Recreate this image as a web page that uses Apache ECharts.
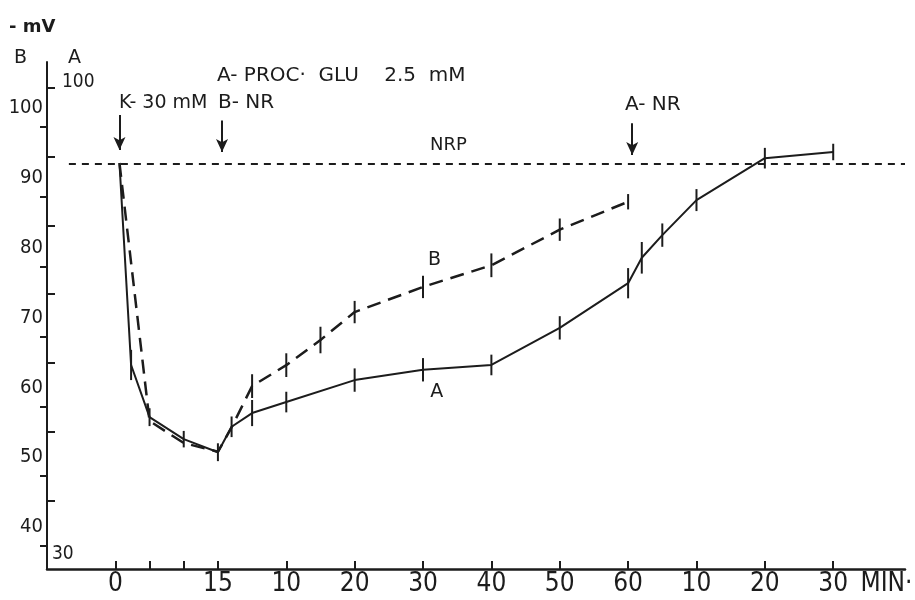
<!DOCTYPE html>
<html>
<head>
<meta charset="utf-8">
<script src="https://cdn.jsdelivr.net/npm/echarts@6/dist/echarts.min.js"></script>
<style>
html,body{margin:0;padding:0;background:#fff;}
#c{width:915px;height:600px;}
</style>
</head>
<body>
<div id="c"></div>
<script>
// ---- data (minutes on a continuous time scale; labels restart after 15 and 60) ----
const timeA = [0.6, 2.3, 5, 10, 15, 17, 20, 25, 35, 45, 55, 65, 75, 77, 80, 85, 95, 105];
const valA  = [89.1, 59.7, 52.1, 48.9, 47.0, 50.7, 52.7, 54.3, 57.5, 59.0, 59.7, 65.1, 71.6, 75.3, 78.6, 83.7, 89.8, 90.7];
const errA  = [0, 2.2, 1.3, 1.2, 1.3, 1.5, 1.9, 1.5, 1.7, 1.7, 1.5, 1.7, 2.2, 2.3, 1.7, 1.6, 1.5, 1.2];

const timeB = [0.6, 5, 10, 15, 17, 20, 25, 30, 35, 45, 55, 65, 75];
const valB  = [94.85, 57.9, 54.75, 53.5, 57.0, 62.9, 65.9, 69.5, 73.5, 77.1, 80.2, 85.3, 89.3];
const errB  = [0, 0, 0, 0, 0, 1.7, 1.7, 1.9, 1.6, 1.6, 1.7, 1.6, 1.1];

const nrpLevelA = 89.05;
const xTickValues  = [0, 5, 10, 15, 25, 35, 45, 55, 65, 75, 85, 95, 105];
const xLabelValues = [0, 15, 25, 35, 45, 55, 65, 75, 85, 95, 105, 112.8];
const xLabelTexts  = ['0', '15', '10', '20', '30', '40', '50', '60', '10', '20', '30', 'MIN·'];
const aTickValues  = [40, 50, 60, 70, 80, 90, 100];
const aLabelValues = [30, 100];
const bTickValues  = [40, 50, 60, 70, 80, 90, 100];

// stimulus arrows: time, top (A-scale mV), tip (A-scale mV)
const arrowTimes = [0.6, 15.6, 75.6];
const arrowTops  = [96.1, 95.3, 94.9];
const arrowTips  = [91.0, 90.7, 90.25];

const INK = '#1c1c1c';
const FONT = '"DejaVu Sans Condensed", "DejaVu Sans", sans-serif';
const FONT2 = '"DejaVu Sans", sans-serif';
const FONTX = '"Liberation Sans Narrow", "DejaVu Sans Condensed", sans-serif';

const chart = echarts.init(document.getElementById('c'), null, {renderer: 'canvas'});

function errRender(params, api) {
  const x = api.value(0), y = api.value(1), e = api.value(2);
  if (!e) return null;
  const p1 = api.coord([x, y + e]);
  const p2 = api.coord([x, y - e]);
  return {type: 'line', shape: {x1: p1[0], y1: p1[1], x2: p2[0], y2: p2[1]},
          style: {stroke: INK, lineWidth: 2}};
}

const option = {
  backgroundColor: '#ffffff',
  animation: false,
  textStyle: {fontFamily: FONT},
  grid: {left: 47, right: 10, top: 62, bottom: 31, containLabel: false, outerBoundsMode: 'none'},
  xAxis: {
    type: 'value', min: -10, max: 115.5,
    splitLine: {show: false},
    axisLine: {show: true, onZero: false, lineStyle: {color: INK, width: 2.5}},
    axisTick: {show: true, inside: true, length: 8, customValues: xTickValues, lineStyle: {color: INK, width: 2}},
    axisLabel: {
      customValues: xLabelValues, margin: 2, fontFamily: FONTX, fontSize: 26, color: INK,
      formatter: v => { const i = xLabelValues.indexOf(v); return i >= 0 ? xLabelTexts[i] : ''; }
    }
  },
  yAxis: [
    { // A scale
      type: 'value', min: 30, max: 103.8, position: 'left',
      name: 'A', nameLocation: 'end', nameGap: -6,
      nameTextStyle: {fontFamily: FONT2, fontSize: 19, color: INK, align: 'left', padding: [0, 0, 0, 21]},
      splitLine: {show: false},
      axisLine: {show: true, onZero: false, lineStyle: {color: INK, width: 2}},
      axisTick: {show: true, inside: true, length: 8, customValues: aTickValues, lineStyle: {color: INK, width: 2}},
      axisLabel: {
        inside: true, customValues: aLabelValues, margin: 1, verticalAlign: 'middle',
        fontFamily: FONT, fontSize: 19, color: INK,
        formatter: v => v === 100 ? '{a|100}' : '{b|30}',
        rich: {
          a: {fontFamily: FONT, fontSize: 19, color: INK, padding: [0, 0, 12, 14]},
          b: {fontFamily: FONT, fontSize: 19, color: INK, padding: [0, 0, 30, 4]}
        }
      }
    },
    { // B scale
      type: 'value', min: 36.71, max: 109.31, position: 'left', offset: 0,
      name: 'B', nameLocation: 'end', nameGap: -6,
      nameTextStyle: {fontFamily: FONT2, fontSize: 19, color: INK, align: 'right', padding: [0, 20, 0, 0]},
      splitLine: {show: false},
      axisLine: {show: false, onZero: false},
      axisTick: {show: true, inside: false, length: 7, customValues: bTickValues, lineStyle: {color: INK, width: 2}},
      axisLabel: {
        customValues: bTickValues, margin: 4, verticalAlign: 'middle',
        fontFamily: FONT, fontSize: 20, color: INK,
        formatter: v => '{b|' + v + '}',
        rich: {b: {fontFamily: FONT, fontSize: 20, color: INK, padding: [0, 0, 38, 0]}}
      }
    }
  ],
  graphic: [
    {type: 'text', left: 9, top: 18, style: {text: '- mV', fontFamily: FONT2, fontSize: 18, fontWeight: 'bold', fill: INK}},
    {type: 'text', left: 217, top: 66, style: {text: 'A- PROC·  GLU    2.5  mM', fontFamily: FONT2, fontSize: 20, fill: INK}},
    {type: 'text', left: 119, top: 94, style: {text: 'K- 30 mM', fontFamily: FONT2, fontSize: 19, fill: INK}},
    {type: 'text', left: 218, top: 93, style: {text: 'B- NR', fontFamily: FONT2, fontSize: 20, fill: INK}},
    {type: 'text', left: 625, top: 95, style: {text: 'A- NR', fontFamily: FONT2, fontSize: 20, fill: INK}},
    {type: 'text', left: 430, top: 136, style: {text: 'NRP', fontFamily: FONT2, fontSize: 18, fill: INK}}
  ],
  series: [
    {
      name: 'A', type: 'line', xAxisIndex: 0, yAxisIndex: 0,
      data: timeA.map((t, i) => [t, valA[i]]),
      showSymbol: false, symbol: 'none',
      lineStyle: {color: INK, width: 2},
      silent: true,
      markPoint: {
        symbol: 'circle', symbolSize: 1, itemStyle: {color: 'rgba(0,0,0,0)'},
        label: {show: true, formatter: 'A', fontFamily: FONT2, fontSize: 19, color: INK},
        data: [{coord: [47, 55.8]}]
      },
      markLine: {
        silent: true, animation: false,
        label: {show: false},
        data: [
          [{coord: [-6.8, nrpLevelA], symbol: 'none', lineStyle: {type: [7, 6], width: 2, color: INK}},
           {coord: [115.5, nrpLevelA], symbol: 'none'}]
        ].concat(arrowTimes.map((t, i) => [
          {coord: [t, arrowTops[i]], symbol: 'none', lineStyle: {type: 'solid', width: 2, color: INK}},
          {coord: [t, arrowTips[i]], symbol: 'arrow', symbolSize: [9, 13]}
        ])),
        lineStyle: {color: INK}
      }
    },
    {
      name: 'B', type: 'line', xAxisIndex: 0, yAxisIndex: 1,
      data: timeB.map((t, i) => [t, valB[i]]),
      showSymbol: false, symbol: 'none',
      lineStyle: {color: INK, width: 2.5, type: [14, 8]},
      silent: true,
      markPoint: {
        symbol: 'circle', symbolSize: 1, itemStyle: {color: 'rgba(0,0,0,0)'},
        label: {show: true, formatter: 'B', fontFamily: FONT2, fontSize: 19, color: INK},
        data: [{coord: [46.7, 81.0]}]
      }
    },
    {
      name: 'A err', type: 'custom', xAxisIndex: 0, yAxisIndex: 0, silent: true,
      renderItem: errRender,
      data: timeA.map((t, i) => [t, valA[i], errA[i]])
    },
    {
      name: 'B err', type: 'custom', xAxisIndex: 0, yAxisIndex: 1, silent: true,
      renderItem: errRender,
      data: timeB.map((t, i) => [t, valB[i], errB[i]])
    }
  ]
};
chart.setOption(option);
</script>
</body>
</html>
